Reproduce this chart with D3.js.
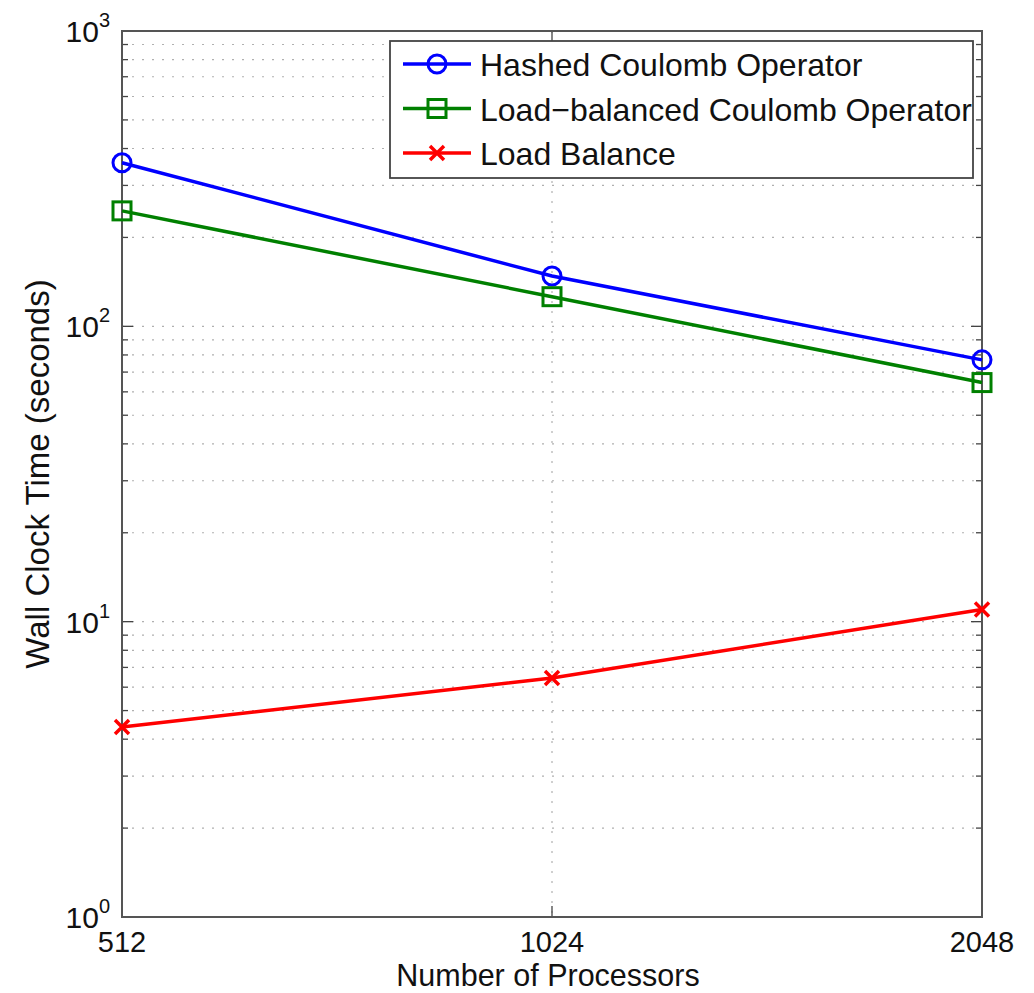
<!DOCTYPE html>
<html>
<head>
<meta charset="utf-8">
<script src="https://cdn.jsdelivr.net/npm/d3@7"></script>
<style>
  body { margin: 0; background: #fff; }
  svg { font-family: "Liberation Sans", Arial, Helvetica, sans-serif; }
</style>
</head>
<body>
<svg id="chart" width="1034" height="993"></svg>
<script>
// --- Data
const processors = [512, 1024, 2048]
const hashedCoulomb = [358, 148, 77]
const balancedCoulomb = [246, 126, 64.5]
const loadBalance = [4.4, 6.45, 11]
const seriesNames = ["Hashed Coulomb Operator", "Load\u2212balanced Coulomb Operator", "Load Balance"]
const yTickExps = [0, 1, 2, 3]

const series = [
    { name: seriesNames[0], values: hashedCoulomb, color: "#0000ff", marker: "circle" },
    { name: seriesNames[1], values: balancedCoulomb, color: "#008000", marker: "square" },
    { name: seriesNames[2], values: loadBalance, color: "#ff0000", marker: "cross" }
]

const svg = d3.select("#chart")
const plotLeft = 122, plotRight = 982, plotTop = 31, plotBottom = 917

const x = d3.scaleLog().base(2).domain([512, 2048]).range([plotLeft, plotRight])
const y = d3.scaleLog().domain([1, 1000]).range([plotBottom, plotTop])

// --- Grid
const minorVals = []
for (let e = 0; e < 3; e++) {
    for (let m = 1; m <= 9; m++) minorVals.push(m * Math.pow(10, e))
}
minorVals.push(1000)

const grid = svg.append("g")
grid.selectAll("line.hg")
    .data(minorVals.filter(v => v > 1 && v < 1000))
    .join("line")
    .attr("x1", plotLeft).attr("x2", plotRight)
    .attr("y1", d => y(d)).attr("y2", d => y(d))
    .attr("stroke", "#b0b0b0").attr("stroke-width", 1.2)
    .attr("stroke-dasharray", "2,8")

grid.selectAll("line.vg")
    .data(processors.slice(1, -1))
    .join("line")
    .attr("x1", d => x(d)).attr("x2", d => x(d))
    .attr("y1", plotTop).attr("y2", plotBottom)
    .attr("stroke", "#b0b0b0").attr("stroke-width", 1.2)
    .attr("stroke-dasharray", "2,8")

// --- Ticks (left/right for y, bottom/top for x)
const ticks = svg.append("g").attr("stroke", "#444").attr("stroke-width", 1.3)
minorVals.forEach(v => {
    const isMajor = Math.abs(Math.log10(v) % 1) < 1e-9
    const len = isMajor ? 11 : 6
    ticks.append("line").attr("x1", plotLeft).attr("x2", plotLeft + len).attr("y1", y(v)).attr("y2", y(v))
    ticks.append("line").attr("x1", plotRight).attr("x2", plotRight - len).attr("y1", y(v)).attr("y2", y(v))
})
processors.forEach(p => {
    ticks.append("line").attr("x1", x(p)).attr("x2", x(p)).attr("y1", plotBottom).attr("y2", plotBottom - 11)
    ticks.append("line").attr("x1", x(p)).attr("x2", x(p)).attr("y1", plotTop).attr("y2", plotTop + 11)
})

// --- Axis box
svg.append("rect")
    .attr("x", plotLeft).attr("y", plotTop)
    .attr("width", plotRight - plotLeft).attr("height", plotBottom - plotTop)
    .attr("fill", "none").attr("stroke", "#555").attr("stroke-width", 2)

// --- Tick labels
svg.append("g").selectAll("text")
    .data(yTickExps)
    .join("text")
    .attr("x", plotLeft - 12)
    .attr("y", d => y(Math.pow(10, d)) + 11)
    .attr("text-anchor", "end")
    .attr("font-size", 30)
    .attr("fill", "#111")
    .each(function (d) {
        const t = d3.select(this)
        t.append("tspan").text("10")
        t.append("tspan").attr("font-size", 20).attr("dy", -15).text(d)
    })

svg.append("g").selectAll("text")
    .data(processors)
    .join("text")
    .attr("x", d => x(d))
    .attr("y", 952)
    .attr("text-anchor", "middle")
    .attr("font-size", 29)
    .attr("fill", "#111")
    .text(d => d)

// --- Axis titles
svg.append("text")
    .attr("x", (plotLeft + plotRight) / 2 - 4)
    .attr("y", 986)
    .attr("text-anchor", "middle")
    .attr("font-size", 30.5)
    .attr("fill", "#111")
    .text("Number of Processors")

svg.append("text")
    .attr("transform", `translate(49, ${(plotTop + plotBottom) / 2}) rotate(-90)`)
    .attr("text-anchor", "middle")
    .attr("font-size", 33)
    .attr("fill", "#111")
    .text("Wall Clock Time (seconds)")

// --- Lines and markers
const line = d3.line().x((d, i) => x(processors[i])).y(d => y(d))

function drawMarker(g, kind, cx, cy, color) {
    if (kind === "circle") {
        g.append("circle").attr("cx", cx).attr("cy", cy).attr("r", 9)
            .attr("fill", "none").attr("stroke", color).attr("stroke-width", 3)
    } else if (kind === "square") {
        g.append("rect").attr("x", cx - 9).attr("y", cy - 9).attr("width", 18).attr("height", 18)
            .attr("fill", "none").attr("stroke", color).attr("stroke-width", 3)
    } else {
        g.append("path")
            .attr("d", `M${cx - 7},${cy - 7}L${cx + 7},${cy + 7}M${cx - 7},${cy + 7}L${cx + 7},${cy - 7}`)
            .attr("stroke", color).attr("stroke-width", 3.5)
    }
}

series.forEach(s => {
    svg.append("path")
        .datum(s.values)
        .attr("d", line)
        .attr("fill", "none")
        .attr("stroke", s.color)
        .attr("stroke-width", 3.5)
    const g = svg.append("g")
    s.values.forEach((v, i) => drawMarker(g, s.marker, x(processors[i]), y(v), s.color))
})

// --- Legend
const legend = svg.append("g")
legend.append("rect")
    .attr("x", 390).attr("y", 41)
    .attr("width", 583).attr("height", 137)
    .attr("fill", "#fff").attr("stroke", "#444").attr("stroke-width", 1.8)

series.forEach((s, i) => {
    const ly = 64 + i * 44.5
    legend.append("line")
        .attr("x1", 403).attr("x2", 471).attr("y1", ly).attr("y2", ly)
        .attr("stroke", s.color).attr("stroke-width", 3.5)
    drawMarker(legend, s.marker, 437, ly, s.color)
    legend.append("text")
        .attr("x", 480).attr("y", ly + 12)
        .attr("font-size", 32)
        .attr("fill", "#111")
        .text(s.name)
})
</script>
</body>
</html>
